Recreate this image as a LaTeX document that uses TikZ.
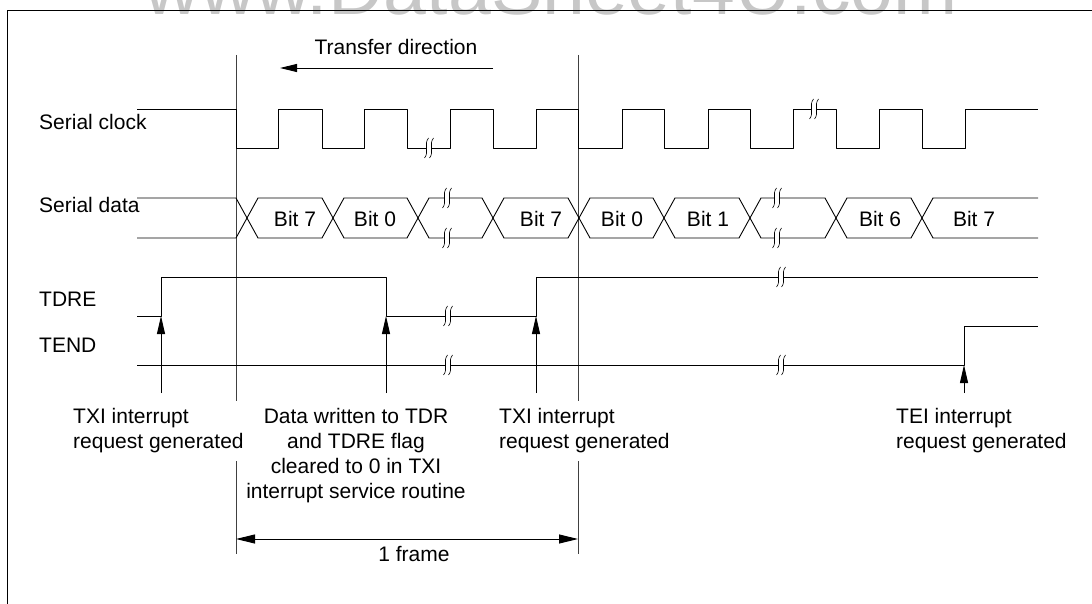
\documentclass[tikz,border=0pt]{standalone}
\usepackage{fontspec}
\setmainfont{Liberation Sans}
\usetikzlibrary{arrows.meta}

\begin{document}
\begin{tikzpicture}[
  x=1pt, y=-1pt,
  sig/.style={line width=0.9pt, line join=round},
  guide/.style={line width=0.8pt, black!75},
  lbl/.style={font=\fontsize{21}{25}\selectfont, inner sep=0pt},
  evlbl/.style={lbl, fill=white, inner xsep=2pt, inner ysep=8pt, anchor=north west, align=left},
  irq/.style={line width=0.9pt, -{Triangle[length=18pt, width=8pt]}},
  framedim/.style={line width=0.9pt, {Triangle[length=19pt, width=9pt]}-{Triangle[length=19pt, width=9pt]}},
  brk/.pic={
    \fill[white] (-2.5,-2) rectangle (2.5,2);
    \foreach \dx in {-2.5,2.5}
      \draw[line width=0.6pt] (\dx+2,-10) .. controls (\dx-3,-4) and (\dx+3,4) .. (\dx-2,10);
  },
]
  \clip (0,0) rectangle (1092,604);

  % watermark and frame
  \node[font=\fontsize{77}{77}\selectfont, text=black!22, anchor=base, inner sep=0pt] (wm) at (551,15) {www.DataSheet4U.com};
  \draw[line width=0.8pt] (7,604) -- (7,10) -- (1092,10);

  % frame boundaries
  \draw[guide] (236,55) -- (236,554);
  \draw[guide] (578,55) -- (578,554);

  % transfer direction
  \node[lbl, anchor=base] (dir) at (396,55) {Transfer direction};
  \coordinate (dirA) at (493,68);
  \coordinate (dirB) at (280,68);
  \draw[line width=0.9pt, -{Triangle[length=17pt, width=8pt]}] (dirA) -- (dirB);

  % signal names
  \node[lbl, anchor=base west] (sclk) at (39,130) {Serial clock};
  \node[lbl, anchor=base west] (sdat) at (39,213) {Serial data};
  \node[lbl, anchor=base west] (tdre) at (39,306) {TDRE};
  \node[lbl, anchor=base west] (tend) at (39,352) {TEND};

  % serial clock
  \draw[sig] (137,109) foreach \f/\r in {236/278, 322/364, 407/450, 493/536, 578/622,
      664/708, 750/793, 836/879, 922/965} { -- (\f,109) -- (\f,148) -- (\r,148) -- (\r,109) }
    -- (1038,109);
  \pic at (429,148) {brk};
  \pic at (814,109) {brk};

  % serial data
  \draw[sig] (137,198) -- (236,198) -- (247,218) -- (236,238) -- (137,238);
  \foreach \a/\b in {247/333, 333/418, 418/493, 493/579, 579/664, 664/750, 750/836, 836/922}
    \draw[sig] (\a,218) -- (\a+11,198) -- (\b-11,198) -- (\b,218) -- (\b-11,238) -- (\a+11,238) -- cycle;
  \draw[sig] (1038,198) -- (933,198) -- (922,218) -- (933,238) -- (1038,238);
  \foreach \x/\t in {295/Bit 7, 375/Bit 0, 541/Bit 7, 622/Bit 0, 708/Bit 1, 880/Bit 6, 974/Bit 7}
    \node[lbl, anchor=base] (bit\x) at (\x,226) {\t};
  \foreach \x in {447,777} {
    \pic at (\x,198) {brk};
    \pic at (\x,238) {brk};
  }

  % TDRE
  \draw[sig] (137,316) -- (161,316) -- (161,277) -- (386,277) -- (386,316) -- (536,316) -- (536,277) -- (1038,277);
  \pic at (448,316) {brk};
  \pic at (781,277) {brk};

  % TEND
  \draw[sig] (137,365) -- (964,365) -- (964,326) -- (1038,326);
  \pic at (448,365) {brk};
  \pic at (781,365) {brk};

  % interrupt requests
  \foreach \n/\x/\y in {1/161/316, 2/386/316, 3/536/316, 4/964/365} {
    \coordinate (src\n) at (\x,393);
    \coordinate (dst\n) at (\x,\y);
    \draw[irq] (src\n) -- (dst\n);
  }

  % event texts
  \node[evlbl] (txiA) at (71,400.5) {TXI interrupt\\request generated};
  \node[lbl, anchor=north, align=center] (wr) at (356,408.5)
    {Data written to TDR\\and TDRE flag\\cleared to 0 in TXI\\interrupt service routine};
  \node[evlbl] (txiB) at (497,400.5) {TXI interrupt\\request generated};
  \node[evlbl] (tei) at (894,400.5) {TEI interrupt\\request generated};

  % one frame
  \coordinate (fl) at (236,539);
  \coordinate (fr) at (578,539);
  \draw[framedim] (fl) -- (fr);
  \node[lbl, anchor=base] (len) at (414,561.5) {1 frame};
\end{tikzpicture}
\end{document}
